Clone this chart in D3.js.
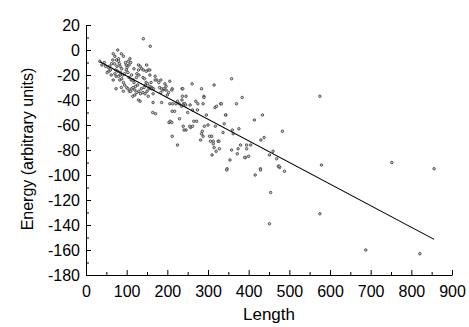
<!DOCTYPE html>
<html>
<head>
<meta charset="utf-8">
<script src="https://cdn.jsdelivr.net/npm/d3@7"></script>
<style>
  body { margin: 0; background: #fff; }
  svg { display: block; }
  text { font-family: "Liberation Sans", Arial, sans-serif; fill: #000; }
</style>
</head>
<body>
<svg id="chart" width="469" height="327"></svg>
<script>
// ---- data (Length, Energy) ----
const points = [
  [34,-9],[39,-12],[48,-13],[55,-14],[58,-13],[56,-17],[60,-16],[63,-11],[67,-3],[71,-5],
  [75,-8],[78,0],[80,-7],[80,-9],[82,-11],[76,-13],[73,-16],[78,-17],[85,-18],[88,-15],
  [90,-20],[71,-19],[74,-21],[67,-24],[74,-31],[80,-21],[83,-24],[84,-20],[88,-23],[92,-26],
  [99,-12],[101,-14],[104,-9],[108,-7],[110,-10],[106,-12],[99,-16],[103,-18],[111,-24],[116,-24],
  [106,-22],[100,-30],[103,-31],[107,-33],[112,-31],[116,-30],[110,-33],[120,-32],[125,-34],[129,-12],
  [133,-13],[137,-15],[129,-16],[141,-16],[148,-17],[149,-12],[153,-16],[125,-19],[130,-20],[140,-22],
  [144,-23],[148,-26],[146,-28],[151,-27],[157,-29],[162,-30],[166,-31],[122,-29],[130,-33],[136,-31],
  [140,-34],[134,-35],[145,-35],[129,-40],[133,-41],[153,-37],[165,-35],[170,-21],[174,-24],[179,-26],
  [181,-30],[186,-31],[190,-32],[192,-31],[197,-32],[203,-34],[141,9],[158,3],[157,-20],[157,-16],
  [170,-24],[184,-24],[194,-27],[197,-29],[165,-42],[164,-50],[171,-51],[184,-34],[186,-42],[161,-31],
  [118,-26],[95,-28],[87,-30],[92,-33],[115,-37],[120,-36],[127,-28],[112,-20],[118,-15],[124,-22],
  [95,-19],[97,-10],[66,-8],[62,-20],[52,-18],[45,-10],[92,-5],[87,-3],[84,-13],[70,-11],
  [143,-30],[150,-33],[155,-31],[160,-26],
  [206,-25],[212,-31],[211,-32],[236,-31],[261,-27],[284,-31],[315,-28],[358,-23],[237,-37],[246,-37],
  [290,-37],[384,-38],[206,-43],[213,-43],[221,-43],[229,-43],[240,-43],[243,-43],[212,-49],[235,-45],
  [256,-44],[270,-41],[275,-43],[288,-43],[331,-43],[370,-43],[317,-46],[274,-48],[344,-52],[414,-56],
  [434,-52],[204,-58],[207,-57],[211,-58],[239,-61],[246,-64],[241,-64],[257,-62],[262,-61],[272,-57],
  [291,-61],[286,-65],[288,-69],[318,-61],[340,-59],[309,-69],[306,-73],[313,-73],[325,-73],[327,-73],
  [315,-78],[328,-79],[320,-81],[310,-84],[347,-95],[358,-80],[374,-79],[354,-88],[362,-67],[376,-63],
  [380,-76],[395,-76],[395,-79],[405,-76],[400,-85],[392,-86],[430,-72],[438,-70],[460,-81],[451,-84],
  [469,-87],[473,-93],[476,-94],[483,-65],[429,-95],[225,-76],[212,-69],[238,-31],[236,-40],[245,-44],
  [290,-38],[255,-61],[265,-57],[284,-67],[304,-69],[313,-75],[321,-45],[333,-43],[343,-52],[360,-64],
  [372,-83],[390,-86],[346,-96],[416,-100],[429,-96],[454,-114],[451,-139],[488,-97],[475,-93],[575,-131],
  [575,-37],[579,-92],[688,-160],[752,-90],[821,-163],[856,-95],[225,-41],[200,-36],[218,-49],[250,-50],
  [262,-48],[230,-55],[296,-52],[300,-60],[282,-72],[337,-66]
];
const fitLine = [[34,-9.4],[856,-151.5]];
const xTicks = [0,100,200,300,400,500,600,700,800,900];
const xMinorTicks = [50,150,250,350,450,550,650,750,850];
const yTicks = [20,0,-20,-40,-60,-80,-100,-120,-140,-160,-180];
const yMinorTicks = [10,-10,-30,-50,-70,-90,-110,-130,-150,-170];
const xTitle = "Length";
const yTitle = "Energy (arbitrary units)";

// ---- drawing ----
const svg = d3.select("#chart");
const x = d3.scaleLinear().domain([0, 900]).range([86, 452]);
const y = d3.scaleLinear().domain([-180, 20]).range([275, 25]);

const fmt = d => String(d).replace("\u2212", "-");

// x axis
svg.append("g").attr("transform", `translate(0,${y(-180)})`)
  .call(d3.axisBottom(x).tickValues(xTicks).tickFormat(fmt).tickSize(-5).tickSizeOuter(0).tickPadding(11));
svg.append("g").attr("transform", `translate(0,${y(-180)})`)
  .call(d3.axisBottom(x).tickValues(xMinorTicks).tickFormat("").tickSize(-3).tickSizeOuter(0))
  .select(".domain").remove();

// y axis
svg.append("g").attr("transform", `translate(${x(0)},0)`)
  .call(d3.axisLeft(y).tickValues(yTicks).tickFormat(fmt).tickSize(-5).tickSizeOuter(0).tickPadding(6));
svg.append("g").attr("transform", `translate(${x(0)},0)`)
  .call(d3.axisLeft(y).tickValues(yMinorTicks).tickFormat("").tickSize(-3).tickSizeOuter(0))
  .select(".domain").remove();

svg.selectAll(".tick text").style("font-size", "16px").style("font-family", "Liberation Sans, Arial, sans-serif");
svg.selectAll(".domain, .tick line").attr("stroke", "#000").attr("stroke-width", 1);

// titles
svg.append("text").attr("x", 269).attr("y", 320).attr("text-anchor", "middle")
  .style("font-size", "17px").text(xTitle);
svg.append("text").attr("transform", "translate(33,149) rotate(-90)").attr("text-anchor", "middle")
  .style("font-size", "16px").text(yTitle);

// points
svg.append("g").selectAll("circle").data(points).join("circle")
  .attr("cx", d => x(d[0])).attr("cy", d => y(d[1])).attr("r", 1.25)
  .attr("fill", "#ccc").attr("stroke", "#333").attr("stroke-width", 0.8);

// fit line
svg.append("path").datum(fitLine)
  .attr("d", d3.line().x(d => x(d[0])).y(d => y(d[1])))
  .attr("fill", "none").attr("stroke", "#000").attr("stroke-width", 1.1);
</script>
</body>
</html>
